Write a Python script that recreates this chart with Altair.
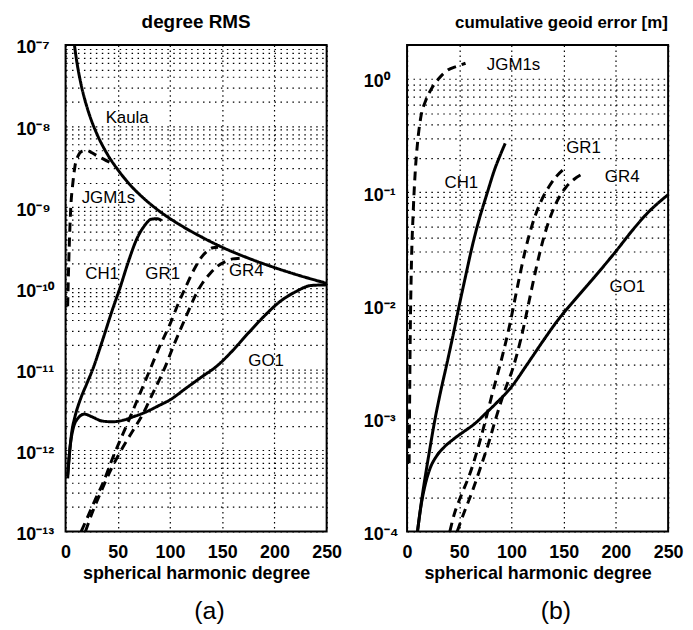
import altair as alt
import pandas as pd

FONT = "Liberation Sans"
W, H = 263, 490

# ---------------- panel (a): degree RMS ----------------
kaula_deg = [8, 8.5, 10, 12, 15, 20, 25, 30, 40, 50, 60, 75, 90, 110, 130, 150, 175, 200, 225, 250]
kaula_val = [1.13e-7, 1.0e-7, 7.2e-8, 5.0e-8, 3.2e-8, 1.8e-8, 1.15e-8, 8.0e-9, 4.5e-9, 2.9e-9, 2.0e-9,
             1.28e-9, 8.9e-10, 6.0e-10, 4.3e-10, 3.2e-10, 2.35e-10, 1.8e-10, 1.42e-10, 1.15e-10]

jgm_a_deg = [2, 3, 4, 5, 7, 9, 12, 16, 20, 25, 30, 35, 40, 44]
jgm_a_val = [6e-11, 2e-10, 5e-10, 1.0e-9, 2.0e-9, 3.2e-9, 4.3e-9, 4.9e-9, 5.0e-9, 4.7e-9, 4.3e-9,
             4.0e-9, 3.7e-9, 3.5e-9]

ch1_a_deg = [2, 4, 6, 9, 14, 20, 26, 35, 45, 52, 60, 68, 76, 82, 88, 92]
ch1_a_val = [5e-13, 1.0e-12, 1.7e-12, 2.6e-12, 4.2e-12, 6.5e-12, 1.0e-11, 2.2e-11, 5.5e-11, 1.0e-10,
             2.1e-10, 4.0e-10, 6.0e-10, 7.1e-10, 7.2e-10, 6.8e-10]

go1_a_deg = [2, 4, 7, 12, 18, 25, 35, 45, 55, 65, 75, 90, 100, 115, 130, 145, 160, 175, 190, 205,
             220, 235, 250]
go1_a_val = [4.5e-13, 1.0e-12, 1.8e-12, 2.5e-12, 2.8e-12, 2.6e-12, 2.3e-12, 2.25e-12, 2.35e-12, 2.6e-12,
             2.9e-12, 3.6e-12, 4.2e-12, 5.8e-12, 8e-12, 1.1e-11, 1.7e-11, 2.8e-11, 4.5e-11, 6.8e-11,
             9e-11, 1.08e-10, 1.1e-10]

gr1_a_deg = [15, 22, 28, 36, 45, 54, 62, 72, 81, 90, 100, 108, 116, 123, 130, 136, 141, 146]
gr1_a_val = [1.0e-13, 1.6e-13, 2.4e-13, 4.0e-13, 8.0e-13, 1.5e-12, 2.6e-12, 5.3e-12, 1.0e-11, 1.9e-11,
             3.6e-11, 6.5e-11, 1.1e-10, 1.7e-10, 2.4e-10, 2.9e-10, 3.15e-10, 3.2e-10]

gr4_a_deg = [19, 27, 33, 44, 55, 65, 74, 82, 90, 97, 103, 110, 117, 124, 131, 138, 145, 152, 160, 168, 173]
gr4_a_val = [1.0e-13, 1.9e-13, 2.9e-13, 6.0e-13, 1.1e-12, 1.8e-12, 2.8e-12, 4.6e-12, 7.5e-12, 1.2e-11,
             1.9e-11, 3.1e-11, 5e-11, 8e-11, 1.15e-10, 1.5e-10, 1.85e-10, 2.1e-10, 2.3e-10, 2.35e-10, 2.4e-10]

labels_a = ["Kaula", "JGM1s", "CH1", "GR1", "GR4", "GO1"]
labels_a_deg = [59, 41, 35, 93, 173, 192]
labels_a_val = [1.25e-8, 1.3e-9, 1.5e-10, 1.5e-10, 1.65e-10, 1.25e-11]

# ---------------- panel (b): cumulative geoid error ----------------
jgm_b_deg = [2, 3, 4, 6, 8, 10, 13, 18, 23, 30, 39, 48, 56]
jgm_b_val = [4e-4, 5e-3, 1.9e-2, 7e-2, 0.16, 0.27, 0.45, 0.65, 0.81, 1.0, 1.2, 1.3, 1.38]

ch1_b_deg = [10, 14, 18, 22, 26, 32, 38, 44, 50, 56, 62, 68, 77, 84, 89, 94]
ch1_b_val = [1.0e-4, 1.9e-4, 3.3e-4, 5.5e-4, 9e-4, 1.7e-3, 3.0e-3, 5.4e-3, 1.0e-2, 1.8e-2, 3.2e-2,
             5.3e-2, 0.1, 0.16, 0.21, 0.27]

go1_b_deg = [10, 13, 17, 22, 28, 35, 45, 55, 65, 75, 85, 100, 115, 130, 145, 160, 180, 200, 215, 230, 250]
go1_b_val = [1.0e-4, 1.6e-4, 2.5e-4, 3.6e-4, 4.6e-4, 5.5e-4, 6.6e-4, 7.7e-4, 9.0e-4, 1.1e-3, 1.35e-3,
             1.9e-3, 3.0e-3, 4.8e-3, 7.5e-3, 1.1e-2, 1.8e-2, 3.0e-2, 4.5e-2, 6.5e-2, 9.5e-2]

gr1_b_deg = [41, 45, 52, 60, 68, 75, 82, 90, 98, 106, 113, 120, 128, 136, 143, 150]
gr1_b_val = [1.0e-4, 1.4e-4, 2.1e-4, 3.2e-4, 5.5e-4, 9.5e-4, 1.7e-3, 3.2e-3, 6.5e-3, 1.5e-2, 3.0e-2,
             5.2e-2, 8.2e-2, 0.112, 0.138, 0.16]

gr4_b_deg = [48, 55, 62, 70, 78, 85, 93, 102, 110, 117, 124, 131, 138, 145, 152, 160, 170]
gr4_b_val = [1.0e-4, 1.5e-4, 2.2e-4, 3.6e-4, 6.0e-4, 1.0e-3, 1.7e-3, 2.9e-3, 5.5e-3, 1.1e-2, 2.2e-2,
             4.0e-2, 6.3e-2, 8.8e-2, 0.11, 0.13, 0.148]

labels_b = ["JGM1s", "CH1", "GR1", "GR4", "GO1"]
labels_b_deg = [102, 52, 169, 206, 211]
labels_b_val = [1.33, 0.12, 0.245, 0.136, 0.0144]

x_ticks = [0, 50, 100, 150, 200, 250]
exps_a = [-13, -12, -11, -10, -9, -8, -7]
exps_b = [-4, -3, -2, -1, 0]


def build_df(series):
    rows = []
    for name, style, degs, vals in series:
        for d, v in zip(degs, vals):
            rows.append({"series": name, "style": style, "degree": d, "value": v})
    return pd.DataFrame(rows)


SUP = {"0": "⁰", "1": "¹", "2": "²", "3": "³", "4": "⁴", "5": "⁵", "6": "⁶",
       "7": "⁷", "8": "⁸", "9": "⁹", "-": "⁻"}


def sup_label(e):
    return "10" + "".join(SUP[c] for c in str(e))


def label_expr(exps):
    L = "(log(datum.value)/LN10)"
    expr = "''"
    for e in exps:
        expr = f"(abs({L} - ({e})) < 0.01) ? '{sup_label(e)}' : " + expr
    return expr


def grid_values(exps, top):
    vals = []
    for e in exps[:-1]:
        for k in range(1, 10):
            vals.append(k * 10.0 ** e)
    vals.append(10.0 ** exps[-1])
    if top > 10.0 ** exps[-1]:
        vals.append(top)
    return vals


def panel(df, labdf, ydom, exps, lab_pad, title, title_size, title_dx, tag, tag_x):
    xscale = alt.Scale(domain=[0, 250], nice=False, zero=False)
    yscale = alt.Scale(type="log", domain=ydom, nice=False)
    xaxis = alt.Axis(values=x_ticks, grid=True, gridDash=[1.5, 3.5], gridColor="black",
                     gridOpacity=1, gridWidth=1.2, ticks=False, domain=False, labelFlush=False,
                     labelFont=FONT, labelFontSize=18, labelFontWeight="bold", labelColor="black",
                     labelPadding=12, title="spherical harmonic degree", titleFont=FONT,
                     titleFontSize=18, titleFontWeight="bold", titleColor="black", titlePadding=3)
    yaxis = alt.Axis(values=grid_values(exps, ydom[1]), labelExpr=label_expr(exps), grid=True,
                     gridDash=[1.5, 4.5], gridColor="black", gridOpacity=1, gridWidth=1.2,
                     ticks=False, domain=False, labelAlign="left", labelPadding=lab_pad,
                     labelOverlap=False, labelFlush=False, labelBaseline="middle", labelOffset=3,
                     labelFont=FONT, labelFontSize=18, labelFontWeight="bold", labelColor="black",
                     title=None)
    lines = alt.Chart(df).mark_line(clip=True, strokeWidth=3, color="black",
                                    interpolate="monotone").encode(
        x=alt.X("degree:Q", scale=xscale, axis=xaxis),
        y=alt.Y("value:Q", scale=yscale, axis=yaxis),
        strokeDash=alt.StrokeDash("style:N",
                                  scale=alt.Scale(domain=["solid", "dashed"], range=[[1, 0], [9, 6]]),
                                  legend=None),
        detail="series:N",
    )
    texts = alt.Chart(labdf).mark_text(font=FONT, fontSize=17, color="black").encode(
        x=alt.X("degree:Q", scale=xscale),
        y=alt.Y("value:Q", scale=yscale),
        text="label:N",
    )
    head = alt.Chart(pd.DataFrame({"t": [title]})).mark_text(
        font=FONT, fontSize=title_size, fontWeight="bold", color="black",
        baseline="alphabetic", align="center").encode(
        x=alt.value(W / 2 + title_dx), y=alt.value(-17), text="t:N")
    tagc = alt.Chart(pd.DataFrame({"t": [tag]})).mark_text(
        font=FONT, fontSize=25, color="black", baseline="middle").encode(
        x=alt.value(tag_x), y=alt.value(H + 80), text="t:N")
    return alt.layer(lines, texts, head, tagc).properties(width=W, height=H)


df_a = build_df([
    ("Kaula", "solid", kaula_deg, kaula_val),
    ("JGM1s", "dashed", jgm_a_deg, jgm_a_val),
    ("CH1", "solid", ch1_a_deg, ch1_a_val),
    ("GO1", "solid", go1_a_deg, go1_a_val),
    ("GR1", "dashed", gr1_a_deg, gr1_a_val),
    ("GR4", "dashed", gr4_a_deg, gr4_a_val),
])
df_b = build_df([
    ("JGM1s", "dashed", jgm_b_deg, jgm_b_val),
    ("CH1", "solid", ch1_b_deg, ch1_b_val),
    ("GO1", "solid", go1_b_deg, go1_b_val),
    ("GR1", "dashed", gr1_b_deg, gr1_b_val),
    ("GR4", "dashed", gr4_b_deg, gr4_b_val),
])
lab_a = pd.DataFrame({"label": labels_a, "degree": labels_a_deg, "value": labels_a_val})
lab_b = pd.DataFrame({"label": labels_b, "degree": labels_b_deg, "value": labels_b_val})

left = panel(df_a, lab_a, [1e-13, 1e-7], exps_a, 50, "degree RMS", 19, 0, "(a)", 145)
right = panel(df_b, lab_b, [1e-4, 2.0], exps_b, 44, "cumulative geoid error [m]", 17, 24, "(b)", 150)

chart = alt.hconcat(left, right, spacing=81, bounds="flush").properties(
    padding={"left": 7, "top": 2, "right": 0, "bottom": 0}
).configure_view(stroke="black", strokeWidth=2)

chart.save("out.html", embed_options={"renderer": "svg", "actions": False})
